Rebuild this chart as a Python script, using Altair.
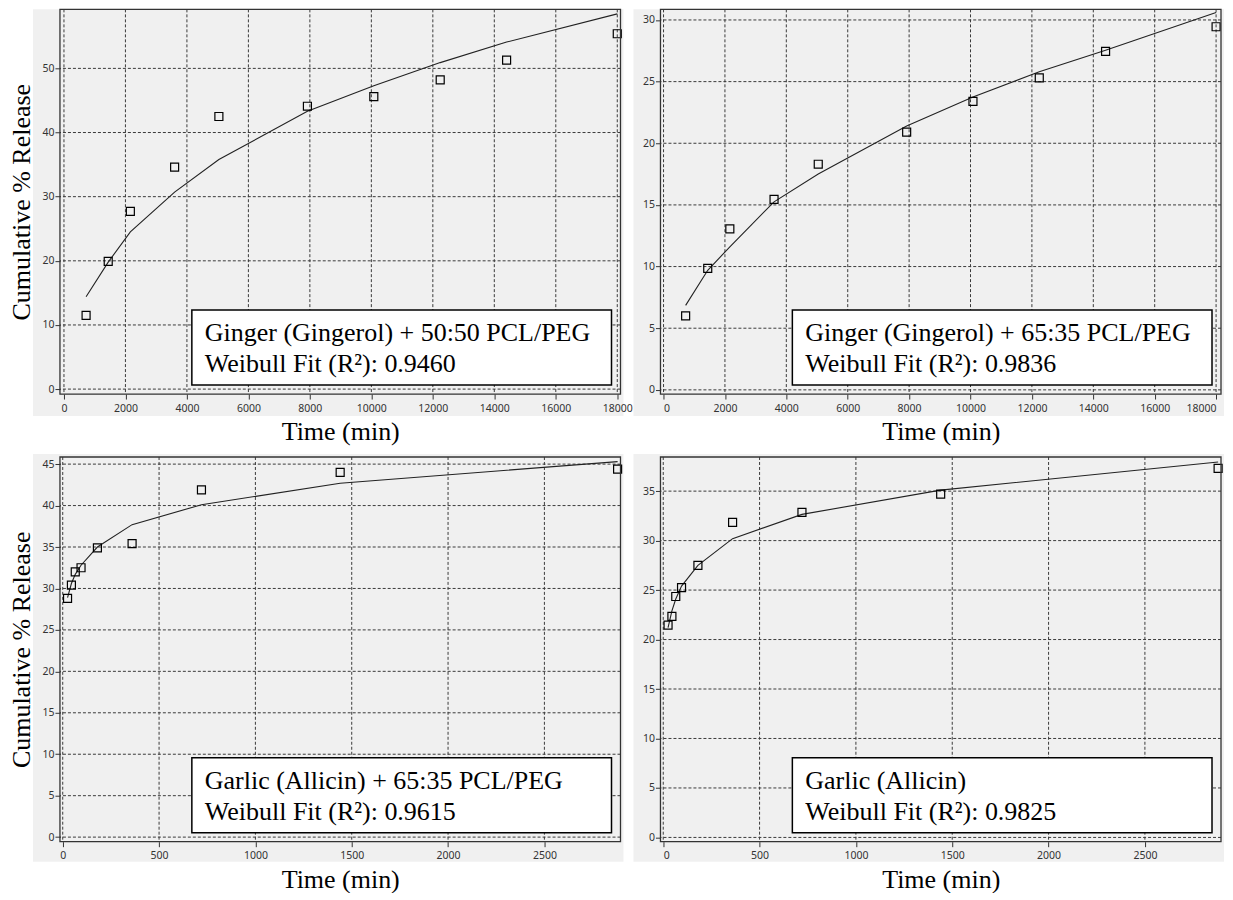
import altair as alt
import pandas as pd

# ---------------- data ----------------
t_ginger = [720, 1440, 2160, 3600, 5040, 7920, 10080, 12240, 14400, 18000]
ginger5050_obs = [11.5, 19.9, 27.7, 34.6, 42.5, 44.1, 45.6, 48.2, 51.3, 55.4]
ginger5050_fit = [14.4, 19.8, 24.5, 30.7, 35.8, 43.3, 47.3, 50.9, 54.1, 58.5]
ginger6535_obs = [6.0, 9.85, 13.05, 15.45, 18.3, 20.9, 23.4, 25.3, 27.45, 29.45]
ginger6535_fit = [6.85, 9.7, 11.6, 15.25, 17.5, 21.4, 23.75, 25.8, 27.55, 30.6]

t_garlic = [25, 45, 65, 95, 180, 360, 720, 1440, 2880]
garlic6535_obs = [28.8, 30.4, 32.0, 32.5, 34.9, 35.4, 41.9, 44.0, 44.4]
garlic6535_fit = [28.9, 30.6, 31.7, 32.8, 35.0, 37.7, 40.1, 42.7, 45.3]
garlic_obs = [21.45, 22.35, 24.35, 25.25, 27.5, 31.85, 32.85, 34.7, 37.3]
garlic_fit = [21.2, 22.9, 24.1, 25.4, 27.5, 30.2, 32.65, 35.1, 37.95]

x_ticks_ginger = [0, 2000, 4000, 6000, 8000, 10000, 12000, 14000, 16000, 18000]
x_ticks_garlic = [0, 500, 1000, 1500, 2000, 2500]
y_ticks_tl = [0, 10, 20, 30, 40, 50]
y_ticks_tr = [0, 5, 10, 15, 20, 25, 30]
y_ticks_bl = [0, 5, 10, 15, 20, 25, 30, 35, 40, 45]
y_ticks_br = [0, 5, 10, 15, 20, 25, 30, 35]

labels = [
    ("Ginger (Gingerol) + 50:50 PCL/PEG", "Weibull Fit (R²): 0.9460"),
    ("Ginger (Gingerol) + 65:35 PCL/PEG", "Weibull Fit (R²): 0.9836"),
    ("Garlic (Allicin) + 65:35 PCL/PEG", "Weibull Fit (R²): 0.9615"),
    ("Garlic (Allicin)", "Weibull Fit (R²): 0.9825"),
]

W = 561
H = 385
SERIF = "Liberation Serif"
GRID = "#3a3a3a"


def panel(t, obs, fit, xdom, ydom, xticks, yticks, lab, left, top):
    xs = alt.Scale(domain=xdom, nice=False, zero=False)
    ys = alt.Scale(domain=ydom, nice=False, zero=False)
    xaxis = alt.Axis(values=xticks, title="Time (min)", zindex=1,
                     labelFlush=(True if left else 8), format="d")
    if left:
        yaxis = alt.Axis(values=yticks, title="Cumulative % Release", format="d", zindex=1)
    else:
        yaxis = alt.Axis(values=yticks, title=None, format="d", zindex=1)

    one = pd.DataFrame({"k": [0]})
    bg = alt.Chart(one).mark_rect(fill="#f0f0f0", clip=False).encode(
        x=alt.value(-27), x2=alt.value(W + 3),
        y=alt.value(0 if top else -3), y2=alt.value(H + 22 if top else H + 20))
    vgrid = alt.Chart(pd.DataFrame({"x": xticks})).mark_rule(
        color=GRID, strokeDash=[3, 2], strokeWidth=1).encode(
        x=alt.X("x:Q", scale=xs, axis=xaxis))
    hgrid = alt.Chart(pd.DataFrame({"y": yticks})).mark_rule(
        color=GRID, strokeDash=[3, 2], strokeWidth=1).encode(
        y=alt.Y("y:Q", scale=ys, axis=yaxis))
    df = pd.DataFrame({"x": t, "y": obs, "fit": fit})
    line = alt.Chart(df).mark_line(color="#222222", strokeWidth=1.1).encode(
        x=alt.X("x:Q", scale=xs, axis=xaxis),
        y=alt.Y("fit:Q", scale=ys, axis=yaxis))
    pts = alt.Chart(df).mark_point(shape="square", size=64, filled=False,
                                   color="black", strokeWidth=1.2, opacity=1).encode(
        x=alt.X("x:Q", scale=xs, axis=xaxis),
        y=alt.Y("y:Q", scale=ys, axis=yaxis))
    box = alt.Chart(one).mark_rect(fill="white", stroke="black", strokeWidth=1.5).encode(
        x=alt.value(W - 429), x2=alt.value(W - 9),
        y=alt.value(H - 84), y2=alt.value(H - 9))
    t1 = alt.Chart(one).mark_text(align="left", baseline="middle", font=SERIF,
                                  fontSize=26, color="black").encode(
        x=alt.value(W - 416), y=alt.value(H - 61), text=alt.value(lab[0]))
    t2 = alt.Chart(one).mark_text(align="left", baseline="middle", font=SERIF,
                                  fontSize=26, color="black").encode(
        x=alt.value(W - 416), y=alt.value(H - 30), text=alt.value(lab[1]))
    frame = alt.Chart(one).mark_rect(fillOpacity=0, stroke="#333333", strokeWidth=1.3).encode(
        x=alt.value(0), x2=alt.value(W), y=alt.value(0), y2=alt.value(H))
    return alt.layer(bg, vgrid, hgrid, line, pts, box, t1, t2, frame).properties(
        width=W, height=H)


c1 = panel(t_ginger, ginger5050_obs, ginger5050_fit, [-130, 18105], [-0.77, 59.2],
           x_ticks_ginger, y_ticks_tl, labels[0], True, True)
c2 = panel(t_ginger, ginger6535_obs, ginger6535_fit, [-100, 18160], [-0.34, 30.86],
           x_ticks_ginger, y_ticks_tr, labels[1], False, True)
c3 = panel(t_garlic, garlic6535_obs, garlic6535_fit, [-14.4, 2895], [-0.55, 45.86],
           x_ticks_garlic, y_ticks_bl, labels[2], True, False)
c4 = panel(t_garlic, garlic_obs, garlic_fit, [-14.4, 2895], [-0.43, 38.45],
           x_ticks_garlic, y_ticks_br, labels[3], False, False)

chart = alt.concat(c1, c2, c3, c4, columns=2,
                   spacing={"row": 63, "column": 40}, bounds="flush").properties(
    padding=0, background="white"
).configure_view(stroke=None).configure_axis(
    grid=False, domain=False, ticks=True, tickColor="#333333", tickSize=5,
    tickWidth=1, labelFont="Noto Sans", labelFontSize=10.5, labelColor="#333333",
    labelPadding=2, titleFont=SERIF, titleFontSize=26, titleFontWeight="normal",
    titleColor="black"
).configure_axisX(labelPadding=4, titlePadding=5).configure_axisY(titlePadding=7, labelPadding=1)

chart.save("out.html", embed_options={"renderer": "svg", "actions": False})
